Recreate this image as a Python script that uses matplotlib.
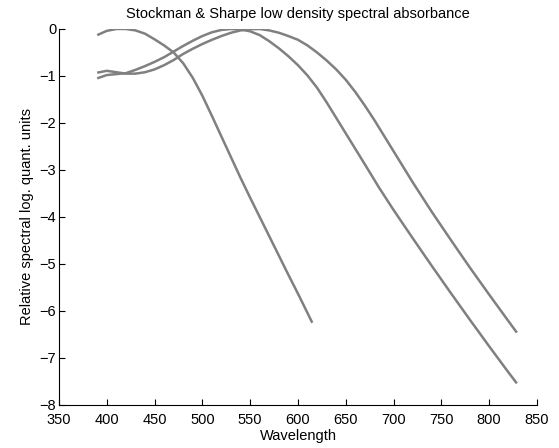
import matplotlib
matplotlib.use('Agg')
from matplotlib import pyplot as plt

plt.rcParams['font.family'] = ['Liberation Sans', 'DejaVu Sans']
plt.rcParams['font.size'] = 10.5

# wavelength (nm) and log absorbance
wl_s = [390, 400, 410, 420, 430, 440, 450, 460, 470, 480, 490, 500, 510, 520,
        530, 540, 550, 560, 570, 580, 590, 600, 615]
val_s = [-0.13, -0.04, 0.0, 0.0, -0.03, -0.1, -0.22, -0.35, -0.5, -0.73, -1.04,
         -1.42, -1.85, -2.29, -2.73, -3.17, -3.59, -4.0, -4.41, -4.82, -5.23,
         -5.63, -6.25]

wl_m = [390, 400, 410, 420, 430, 440, 450, 460, 470, 480, 490, 500, 510, 520,
        530, 540, 550, 560, 570, 580, 590, 600, 610, 620, 630, 640, 650, 660,
        670, 685, 700, 720, 740, 760, 780, 800, 820, 829]
val_m = [-1.05, -0.98, -0.96, -0.94, -0.87, -0.79, -0.70, -0.60, -0.48, -0.36,
         -0.25, -0.15, -0.07, -0.02, 0.0, -0.01, -0.05, -0.13, -0.26, -0.41,
         -0.58, -0.77, -0.99, -1.25, -1.56, -1.89, -2.22, -2.55, -2.88, -3.38,
         -3.85, -4.45, -5.04, -5.62, -6.19, -6.75, -7.3, -7.54]

wl_l = [390, 400, 410, 420, 430, 440, 450, 460, 470, 480, 490, 500, 510, 520,
        530, 540, 550, 560, 570, 580, 590, 600, 610, 620, 630, 640, 650, 660,
        670, 680, 690, 700, 720, 740, 760, 780, 800, 820, 829]
val_l = [-0.93, -0.89, -0.92, -0.95, -0.95, -0.92, -0.86, -0.77, -0.66, -0.53,
         -0.42, -0.32, -0.23, -0.15, -0.08, -0.03, -0.005, 0.0, -0.03, -0.08,
         -0.15, -0.23, -0.35, -0.5, -0.67, -0.86, -1.08, -1.34, -1.63, -1.94,
         -2.27, -2.6, -3.26, -3.89, -4.49, -5.08, -5.65, -6.21, -6.46]

fig = plt.figure(figsize=(5.59, 4.48), dpi=100)
ax = fig.add_axes([0.1055, 0.096, 0.855, 0.8393])

for x, y in [(wl_s, val_s), (wl_m, val_m), (wl_l, val_l)]:
    ax.plot(x, y, color='#808080', lw=1.8, solid_capstyle='butt')

ax.set_xlim(350, 850)
ax.set_ylim(-8, 0)
ax.set_xticks(range(350, 851, 50))
ax.set_yticks(range(-8, 1))
ax.spines['top'].set_visible(False)
ax.spines['right'].set_visible(False)
for s in ['left', 'bottom']:
    ax.spines[s].set_linewidth(0.8)
ax.tick_params(direction='in', length=4, width=0.8)
ax.tick_params(axis='x', pad=6)
ax.tick_params(axis='y', pad=2)

ax.set_xlabel('Wavelength', labelpad=1)
ax.set_ylabel('Relative spectral log. quant. units', labelpad=4)
ax.set_title('Stockman & Sharpe low density spectral absorbance', fontsize=10.5, pad=8)

fig.savefig('out.png', dpi=100)
